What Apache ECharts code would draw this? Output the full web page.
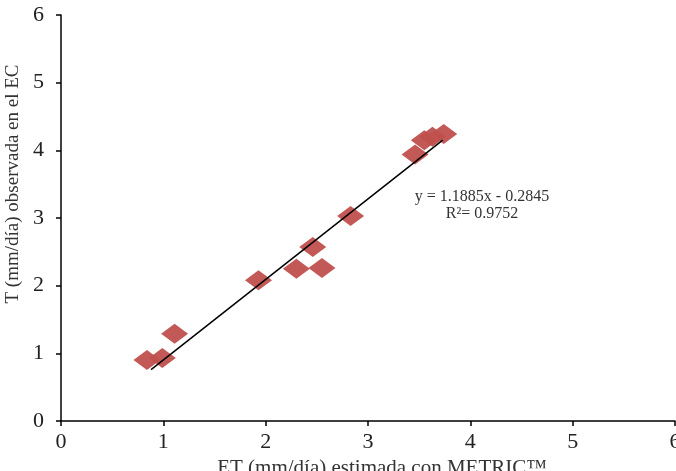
<!DOCTYPE html>
<html>
<head>
<meta charset="utf-8">
<script src="https://cdn.jsdelivr.net/npm/echarts@6/dist/echarts.min.js"></script>
<style>
  html, body { margin: 0; padding: 0; background: #fff; }
  #chart { width: 676px; height: 471px; }
</style>
</head>
<body>
<div id="chart"></div>
<script>
// ET estimada (x) vs T observada (y), mm/día
var etMetric = [0.84, 0.99, 1.11, 1.93, 2.30, 2.46, 2.55, 2.83, 3.46, 3.55, 3.63, 3.74]
var tObservada = [0.90, 0.93, 1.29, 2.08, 2.25, 2.57, 2.26, 3.03, 3.94, 4.15, 4.20, 4.24]
// extremos de la recta de tendencia
var trendX = [0.88, 3.73]
var trendY = [0.76, 4.15]
var axisTicks = [0, 1, 2, 3, 4, 5, 6]

var points = etMetric.map(function (x, i) { return [x, tObservada[i]] })
var trend = trendX.map(function (x, i) { return [x, trendY[i]] })

var serif = '"Liberation Serif", "DejaVu Serif", serif'
var chart = echarts.init(document.getElementById('chart'))
chart.setOption({
  animation: false,
  grid: { left: 61, right: 1, top: 15, bottom: 50, containLabel: false, outerBoundsMode: 'none' },
  xAxis: {
    type: 'value',
    min: axisTicks[0],
    max: axisTicks[axisTicks.length - 1],
    interval: 1,
    name: 'ET (mm/día) estimada con METRIC™',
    nameLocation: 'middle',
    nameGap: 30,
    nameTextStyle: { fontFamily: serif, fontSize: 21, color: '#333', padding: [0, 0, 0, 28] },
    axisLine: { lineStyle: { color: '#000', width: 1.5 } },
    axisTick: { length: 5, lineStyle: { color: '#000', width: 1.5 } },
    axisLabel: { fontFamily: serif, fontSize: 22, color: '#222', margin: 10 },
    splitLine: { show: false }
  },
  yAxis: {
    type: 'value',
    min: axisTicks[0],
    max: axisTicks[axisTicks.length - 1],
    interval: 1,
    name: 'T (mm/día) observada en el EC',
    nameLocation: 'middle',
    nameGap: 32,
    nameTextStyle: { fontFamily: serif, fontSize: 19, color: '#333', padding: [0, 0, 0, 68] },
    axisLine: { show: true, lineStyle: { color: '#000', width: 1.5 } },
    axisTick: { show: true, length: 5, lineStyle: { color: '#000', width: 1.5 } },
    axisLabel: { fontFamily: serif, fontSize: 22, color: '#222', margin: 17 },
    splitLine: { show: false }
  },
  series: [
    {
      type: 'scatter',
      symbol: 'diamond',
      symbolSize: [27, 20],
      itemStyle: { color: '#C0504D', opacity: 0.95 },
      data: points
    },
    {
      type: 'line',
      showSymbol: false,
      symbol: 'none',
      lineStyle: { color: '#000', width: 1.5 },
      data: trend,
      z: 3
    }
  ],
  graphic: [
    {
      type: 'text',
      x: 482,
      y: 188,
      style: {
        text: 'y = 1.1885x - 0.2845\nR²= 0.9752',
        font: '16px ' + serif,
        fill: '#333',
        align: 'center',
        verticalAlign: 'top',
        lineHeight: 17
      }
    }
  ]
})
</script>
</body>
</html>
